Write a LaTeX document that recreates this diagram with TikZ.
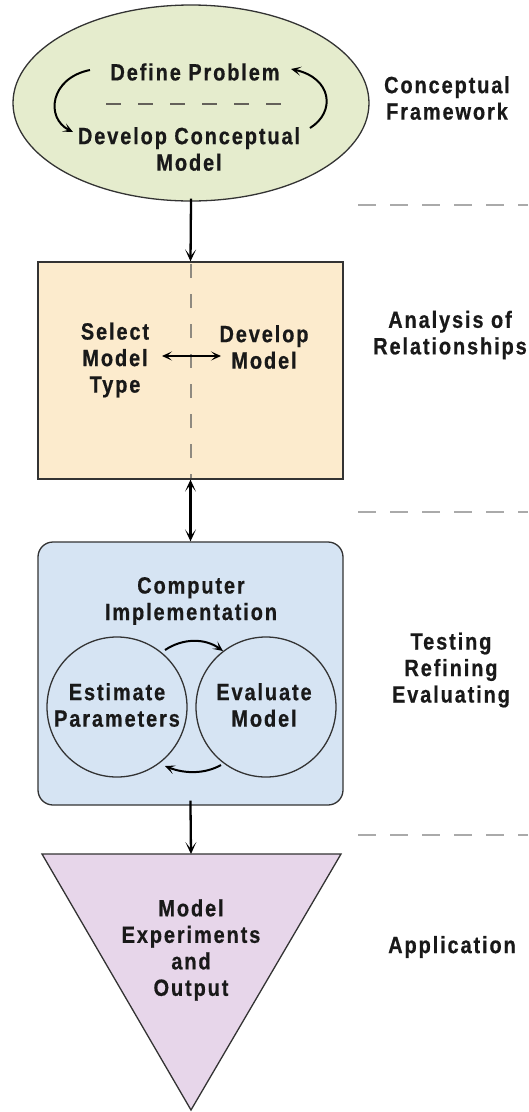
\documentclass[tikz,border=0pt]{standalone}
\usepackage{fontspec}
\setmainfont{Liberation Sans}[FakeStretch=0.85,LetterSpace=8,BoldFeatures={FakeBold=0.6}]
\usetikzlibrary{shapes.geometric,arrows.meta}
\definecolor{cgreen}{HTML}{E5ECCD}
\definecolor{corange}{HTML}{FCEBCD}
\definecolor{cblue}{HTML}{D6E4F3}
\definecolor{cpurple}{HTML}{E7D6EA}
\definecolor{cedge}{HTML}{333333}
\definecolor{cdash}{HTML}{AAAAAA}
\definecolor{cdashin}{HTML}{8F8A80}
\begin{document}
\begin{tikzpicture}[x=1pt,y=-1pt,
  lbl/.style={font=\fontsize{23.5}{26.5}\selectfont\bfseries, text=black!90, align=center, inner sep=0pt},
  shapeedge/.style={draw=cedge, line width=1.3pt},
  arr/.style={line width=2.3pt, -{Stealth[length=12pt,width=11pt,inset=7pt]}},
  darr/.style={line width=2.3pt, {Stealth[length=12pt,width=11pt,inset=7pt]}-{Stealth[length=12pt,width=11pt,inset=7pt]}},
  carr/.style={line width=2pt, -{Stealth[length=10pt,width=9pt,inset=5pt]}},
  sepline/.style={draw=cdash, line width=1.8pt, dash pattern=on 18pt off 14pt},
]
\useasboundingbox (0,0) rectangle (528,1112);

% Conceptual framework ellipse
\node[ellipse, shapeedge, fill=cgreen, minimum width=356pt, minimum height=196pt, inner sep=0pt] (ell) at (191,103) {};
\node[lbl] (defp) at (195,72) {Define Problem};
\node[lbl] (devc) at (189,149) {Develop Conceptual\\Model};
\coordinate (ed1) at (106,104);
\coordinate (ed2) at (282,104);
\draw[draw=cdashin!70!black, line width=1.3pt, dash pattern=on 15pt off 17pt] (ed1) -- (ed2);
\coordinate (la1) at (90,70);
\coordinate (la2) at (73,132);
\draw[carr] (la1) .. controls (50,78) and (45,118) .. (la2);
\coordinate (ra1) at (310,128);
\coordinate (ra2) at (291,69);
\draw[carr] (ra1) .. controls (336,112) and (332,78) .. (ra2);

% Analysis box
\node[rectangle, shapeedge, fill=corange, minimum width=305pt, minimum height=217pt, inner sep=0pt] (rel) at (190.5,370.5) {};
\coordinate (vd1) at (191,264);
\coordinate (vd2) at (191,478);
\draw[draw=cdashin, line width=1.3pt, dash pattern=on 14pt off 16pt] (vd1) -- (vd2);
\node[lbl] (sel) at (115,360) {Select\\Model\\Type};
\node[lbl] (devm) at (264,347) {Develop\\Model};
\coordinate (da1) at (162,356);
\coordinate (da2) at (221,356);
\draw[line width=2pt, {Stealth[length=10pt,width=9pt,inset=5pt]}-{Stealth[length=10pt,width=9pt,inset=5pt]}] (da1) -- (da2);

% Testing box
\node[rectangle, rounded corners=15pt, shapeedge, fill=cblue, minimum width=305pt, minimum height=263pt, inner sep=0pt] (test) at (190.5,673.5) {};
\node[lbl] (comp) at (191,601) {Computer\\Implementation};
\node[circle, shapeedge, minimum size=140pt, inner sep=0pt] (est) at (117,707) {};
\node[circle, shapeedge, minimum size=140pt, inner sep=0pt] (eva) at (266,707) {};
\node[lbl] (estt) at (117,705) {Estimate\\Parameters};
\node[lbl] (evat) at (264,705) {Evaluate\\Model};
\coordinate (ta1) at (165,650);
\coordinate (ta2) at (223,651);
\draw[carr] (ta1) .. controls (183,638) and (205,638) .. (ta2);
\coordinate (ba1) at (221,765);
\coordinate (ba2) at (165,766);
\draw[carr] (ba1) .. controls (205,774) and (185,774) .. (ba2);

% Application triangle
\coordinate (tl) at (42,854);
\coordinate (tr) at (341,854);
\coordinate (tb) at (191,1110);
\coordinate (ttop) at (191,854);
\filldraw[shapeedge, fill=cpurple, line join=miter] (tl) -- (tr) -- (tb) -- cycle;
\node[lbl] (mexp) at (191,950) {Model\\Experiments\\and\\Output};

% Connectors
\draw[arr, shorten <=-3pt] (ell.south) -- (rel.north);
\draw[darr] (rel.south) -- (test.north);
\draw[arr, shorten <=-5pt] (test.south) -- (ttop);

% Separators
\coordinate (s1a) at (358,205); \coordinate (s1b) at (528,205);
\coordinate (s2a) at (358,512); \coordinate (s2b) at (528,512);
\coordinate (s3a) at (358,835); \coordinate (s3b) at (528,835);
\draw[sepline] (s1a) -- (s1b);
\draw[sepline] (s2a) -- (s2b);
\draw[sepline] (s3a) -- (s3b);

% Phase labels
\node[lbl] (ph1) at (447,98) {Conceptual\\Framework};
\node[lbl] (ph2) at (450,335) {Analysis of\\Relationships};
\node[lbl] (ph3) at (451,670) {Testing\\Refining\\Evaluating};
\node[lbl] (ph4) at (452,947) {Application};
\end{tikzpicture}
\end{document}
